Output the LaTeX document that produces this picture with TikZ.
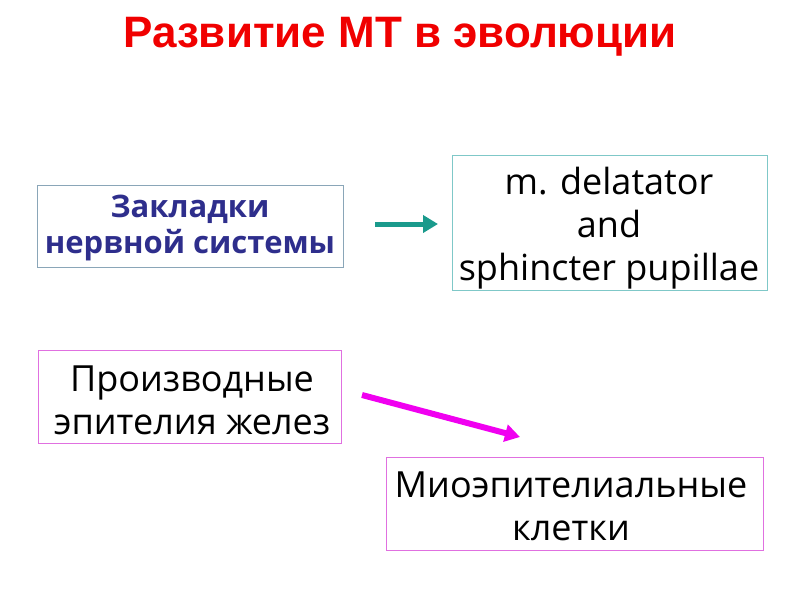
\documentclass[tikz,border=0pt]{standalone}
\usepackage{fontspec}
\usetikzlibrary{arrows.meta}
\setmainfont{Open Sans}
\newfontfamily\titlefont{Liberation Sans}
\definecolor{tealc}{HTML}{1A9A8C}
\definecolor{boxteal}{HTML}{7FC8C8}
\definecolor{boxgray}{HTML}{8AA6B8}
\definecolor{magc}{HTML}{F000F0}
\definecolor{boxmag}{HTML}{E070E0}
\definecolor{titlered}{HTML}{F00000}
\definecolor{navy}{HTML}{2E2E8C}
\begin{document}
\begin{tikzpicture}[x=1pt,y=-1pt,
  box/.style={draw, line width=1pt},
  txt/.style={align=center, inner sep=0pt, font=\fontsize{36}{43}\selectfont},
  arr/.style={line width=5pt, -{Triangle[length=15pt,width=17pt]}}]
\useasboundingbox (0,0) rectangle (800,600);
\node[font=\titlefont\bfseries\fontsize{44}{48}\selectfont, text=titlered] (title) at (400,37) {Развитие МТ в эволюции};
\draw[box, draw=boxgray] (37,185) rectangle (343,267);
\node[txt, font=\bfseries\fontsize{31}{36}\selectfont, text=navy] (b1) at (190,228) {Закладки\\нервной системы};
\draw[box, draw=boxteal] (452,155) rectangle (767,290);
\node[txt] (b2) at (609,228) {m. delatator\\and\\sphincter pupillae};
\draw[box, draw=boxmag] (38,350) rectangle (341,443);
\node[txt] (b3) at (192,400) {Производные\\эпителия желез};
\draw[box, draw=boxmag] (386,457) rectangle (763,550);
\node[txt] (b4) at (571,506) {Миоэпителиальные\\клетки};
\coordinate (a1s) at (375,224);
\coordinate (a1e) at (438,224);
\draw[arr, tealc] (a1s) -- (a1e);
\coordinate (a2s) at (362,395);
\coordinate (a2e) at (520,437);
\draw[arr, magc, line width=6pt] (a2s) -- (a2e);
\end{tikzpicture}
\end{document}
